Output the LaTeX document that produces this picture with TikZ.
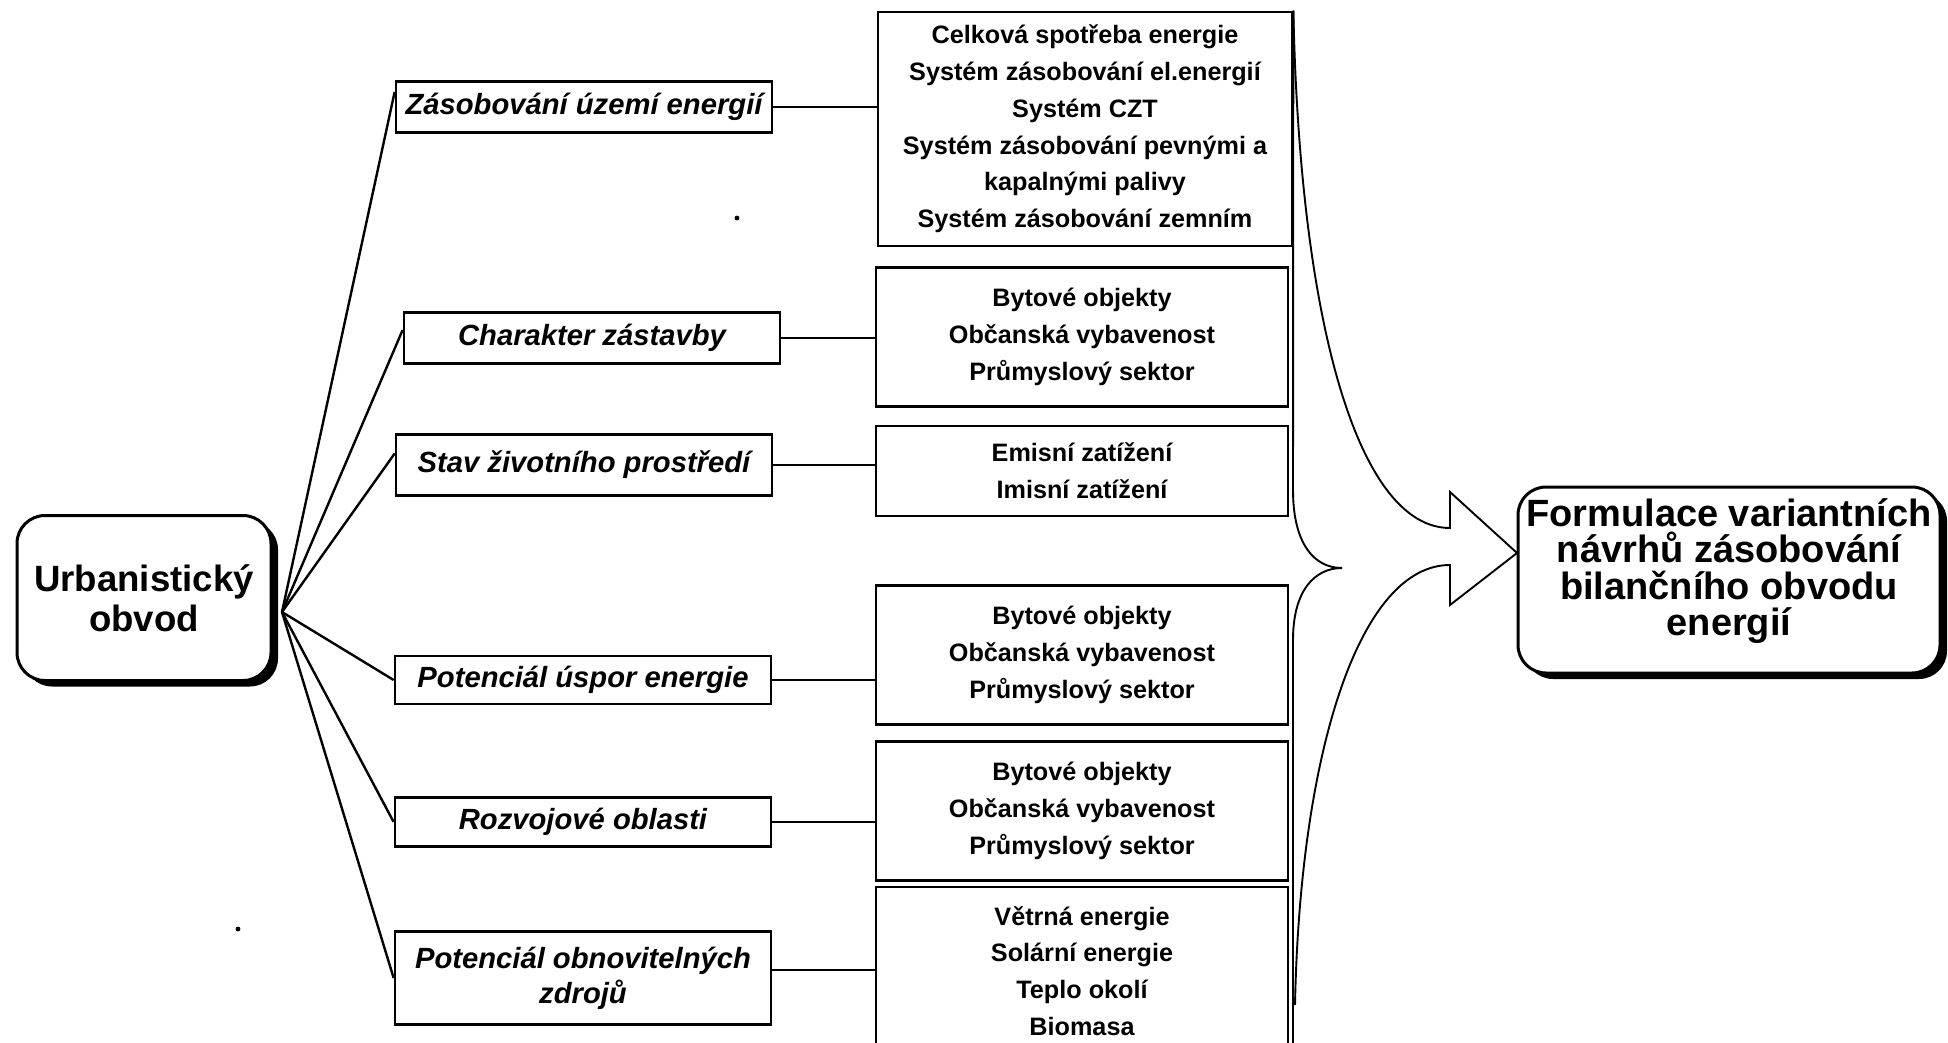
\documentclass[tikz,border=0pt]{standalone}
\usepackage{fontspec}
\setmainfont{Liberation Sans}
\usepackage{tikz}
\usetikzlibrary{calc}
\usetikzlibrary{shadows}

\begin{document}
\begin{tikzpicture}[x=0.5pt,y=-0.5pt,
    branch/.style={draw,line width=1.35pt,inner sep=0pt,minimum width=188pt,align=center,
        font=\bfseries\itshape\fontsize{14.6}{17.5}\selectfont},
    items/.style={draw,line width=1.35pt,inner sep=0pt,minimum width=206pt,align=center,
        font=\bfseries\fontsize{12.6}{18.4}\selectfont},
    mainbox/.style={draw,line width=1.5pt,rounded corners=14pt,fill=white,inner sep=0pt,align=center,
        drop shadow={shadow xshift=3.5pt,shadow yshift=-3pt,fill=black,opacity=1}},
    link/.style={line width=1.2pt},
    curve/.style={line width=0.95pt}]
            \useasboundingbox (0,0) rectangle (1948,1043);
            \clip (0,0) rectangle (1948,1043);

            \coordinate (hub) at (282,612);
            \coordinate (tip) at (1517,553);

            \node[mainbox,minimum width=127pt,minimum height=82.5pt,font=\bfseries\fontsize{18.3}{20}\selectfont] (urb) at (144,598) {Urbanistický\\obvod};
            \node[mainbox,minimum width=211pt,minimum height=93pt] (form) at (1729,580) {};
            \node[align=center,font=\bfseries\fontsize{19}{18.2}\selectfont] (formtext) at ($(form.center)+(0,-9)$) {Formulace variantních\\návrhů zásobování\\bilančního obvodu\\energií};

            \node[branch,minimum height=25.5pt] (z1) at (584,107) {Zásobování území energií};
            \node[branch,minimum height=25.5pt] (z2) at (592,338) {Charakter zástavby};
            \node[branch,minimum height=30.5pt] (z3) at (584,465) {Stav životního prostředí};
            \node[branch,minimum height=24pt] (z4) at (583,680) {Potenciál úspor energie};
            \node[branch,minimum height=24.5pt] (z5) at (583,822) {Rozvojové oblasti};
            \node[branch,minimum height=46.5pt] (z6) at (583,978) {Potenciál obnovitelných\\zdrojů};

            \node[items,minimum width=207pt,minimum height=117pt] (d1) at (1085,129) {Celková spotřeba energie\\Systém zásobování el.energií\\Systém CZT\\Systém zásobování pevnými a\\kapalnými palivy\\Systém zásobování zemním};
            \node[items,minimum height=69.5pt] (d2) at (1082,337) {Bytové objekty\\Občanská vybavenost\\Průmyslový sektor};
            \node[items,minimum height=45pt] (d3) at (1082,471) {Emisní zatížení\\Imisní zatížení};
            \node[items,minimum height=69.5pt] (d4) at (1082,655) {Bytové objekty\\Občanská vybavenost\\Průmyslový sektor};
            \node[items,minimum height=69.5pt] (d5) at (1082,811) {Bytové objekty\\Občanská vybavenost\\Průmyslový sektor};
            \node[items,minimum height=84pt] (d6) at (1082,971) {Větrná energie\\Solární energie\\Teplo okolí\\Biomasa};

            \draw[link] (hub) -- ($(z1.north west)!0.22!(z1.south west)$);
            \draw[link] (hub) -- ($(z2.north west)!0.35!(z2.south west)$);
            \draw[link] (hub) -- ($(z3.north west)!0.32!(z3.south west)$);
            \draw[link] (hub) -- (z4.west);
            \draw[link] (hub) -- (z5.west);
            \draw[link] (hub) -- (z6.west);

            \draw[link] (z1.east) -- (z1.east -| d1.west);
            \draw[link] (z2.east) -- (z2.east -| d2.west);
            \draw[link] (z3.east) -- (z3.east -| d3.west);
            \draw[link] (z4.east) -- (z4.east -| d4.west);
            \draw[link] (z5.east) -- (z5.east -| d5.west);
            \draw[link] ($(z6.east)+(0,-8)$) -- ($(z6.east -| d6.west)+(0,-8)$);

            \draw[curve] (d1.north east) -- (1293,490) .. controls (1293,545) and (1315,568) .. (1342,568)
                .. controls (1315,568) and (1293,590) .. (1293,640) -- (1293,1043);
            \draw[curve] (d1.north east) .. controls (1300,330) and (1360,528) .. (1450,528) -- (1450,492) -- (tip)
                -- (1450,605) -- (1450,565) .. controls (1360,565) and (1300,750) .. (1295,1005);

            \fill (737,218) circle (1.2pt);
            \fill (238,929) circle (1.2pt);

        \end{tikzpicture}
\end{document}
